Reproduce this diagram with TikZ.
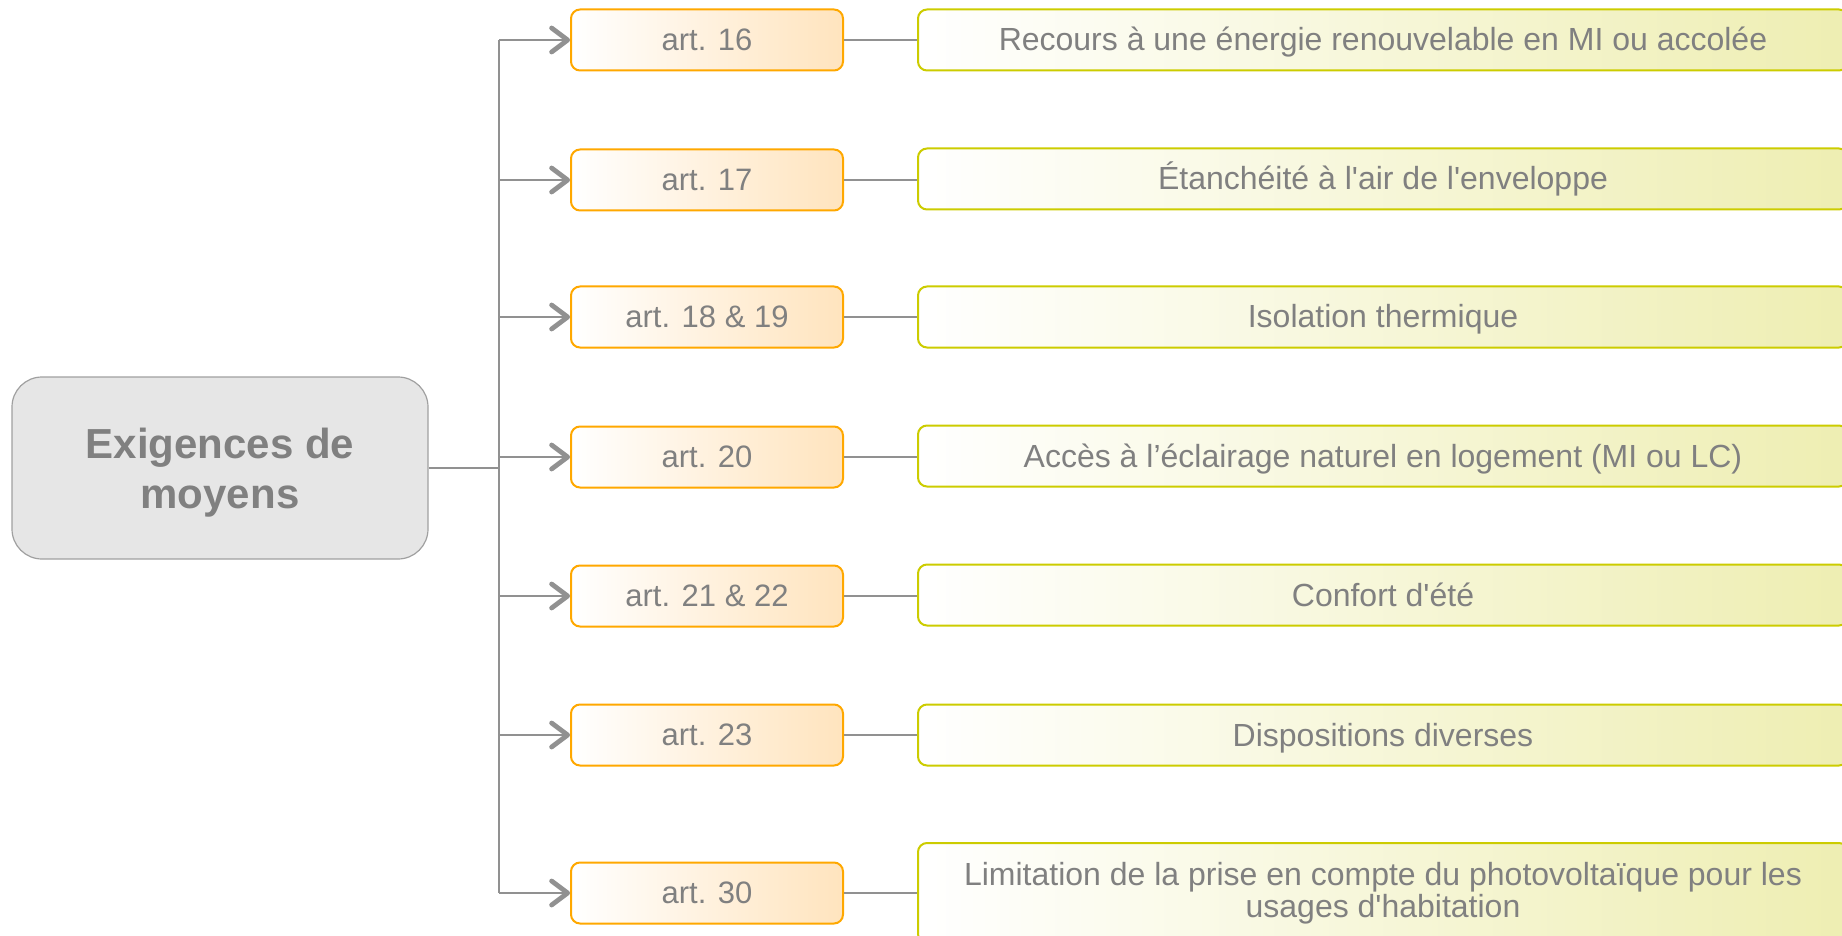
\documentclass[tikz,border=0pt]{standalone}
\usepackage{fontspec}
\setmainfont{Liberation Sans}
\usetikzlibrary{arrows.meta}
\definecolor{txtgray}{RGB}{128,128,128}
\definecolor{linegray}{RGB}{145,145,145}
\definecolor{rootfill}{RGB}{230,230,230}
\definecolor{rootdraw}{RGB}{160,160,160}
\definecolor{artdraw}{RGB}{255,168,0}
\definecolor{artfill}{RGB}{255,228,190}
\definecolor{descdraw}{RGB}{204,204,0}
\definecolor{descfill}{RGB}{238,238,178}
\newcommand{\ap}{\textquotesingle}
\tikzset{
  rootbox/.style={draw=rootdraw, line width=0.6pt, fill=rootfill, rounded corners=15pt,
    minimum width=208pt, minimum height=91pt, inner sep=0pt},
  roottext/.style={align=center, text=txtgray,
    font=\fontsize{21}{25}\selectfont\bfseries, inner sep=0pt},
  artbox/.style={draw=artdraw, line width=1pt, left color=white, right color=artfill,
    rounded corners=4.5pt, minimum width=136pt, minimum height=30.5pt, text=txtgray,
    font=\fontsize{15.5}{15}\selectfont, inner sep=0pt, text height=10.5pt, text depth=0pt},
  descbase/.style={draw=descdraw, line width=1pt, left color=white, right color=descfill,
    rounded corners=4.5pt, minimum width=465pt, minimum height=30.5pt, text=txtgray,
    font=\fontsize{16}{14}\selectfont, inner sep=0pt},
  descbox/.style={descbase, text height=11pt, text depth=0pt},
  conn/.style={draw=linegray, line width=1.4pt},
  arr/.style={conn, -{Straight Barb[length=8pt,width=12pt,line width=2.4pt,round]}},
}
\begin{document}
\begin{tikzpicture}[x=0.5pt,y=-0.5pt]
\useasboundingbox (0,0) rectangle (1842,936);
\clip (0,0) rectangle (1842,936);
\node[rootbox] (root) at (220,468) {};
\node[roottext] (roottxt) at (220,473) {Exigences de\\moyens};
\coordinate (jt) at (499,468);
\coordinate (top) at (499,40);
\coordinate (bot) at (499,893);

\node[artbox] (a1) at (707,40) {art. 16};
\node[artbox] (a2) at (707,180) {art. 17};
\node[artbox] (a3) at (707,317) {art. 18 \& 19};
\node[artbox] (a4) at (707,457) {art. 20};
\node[artbox] (a5) at (707,596) {art. 21 \& 22};
\node[artbox] (a6) at (707,735) {art. 23};
\node[artbox] (a7) at (707,893) {art. 30};

\node[descbox] (d1) at (1383,40) {Recours à une énergie renouvelable en MI ou accolée};
\node[descbox] (d2) at (1383,179) {Étanchéité à l\ap air de l\ap enveloppe};
\node[descbox] (d3) at (1383,317) {Isolation thermique};
\node[descbox] (d4) at (1383,456) {Accès à l’éclairage naturel en logement (MI ou LC)};
\node[descbox] (d5) at (1383,595) {Confort d\ap été};
\node[descbox] (d6) at (1383,735) {Dispositions diverses};
\node[descbase, minimum height=50pt, align=center] (d7) at (1383,893) {Limitation de la prise en compte du photovoltaïque pour les\\usages d\ap habitation};

\draw[conn] (root.east |- jt) -- (jt);
\draw[conn] (top) -- (bot);
\foreach \i in {1,...,7}{
  \draw[arr] (top |- a\i.west) -- (a\i.west);
  \draw[conn] (a\i.east) -- (d\i.west |- a\i.east);
}
\end{tikzpicture}
\end{document}
